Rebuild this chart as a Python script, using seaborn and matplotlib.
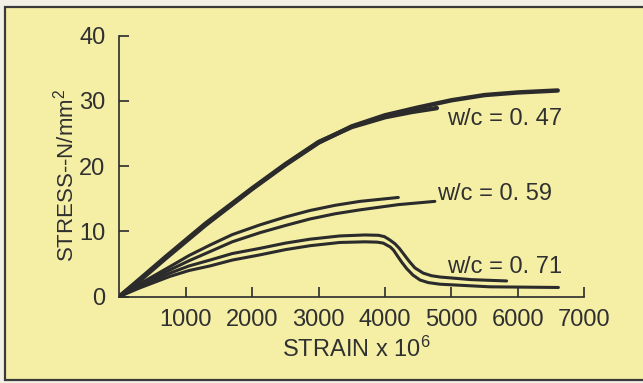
import matplotlib
matplotlib.use("Agg")
import matplotlib.pyplot as plt
from matplotlib.patches import Rectangle
import seaborn as sns
import pandas as pd

# ---- data (strain x 10^-6, stress N/mm^2) ----
strain_047a = [0, 300, 700, 1300, 2000, 2500, 3000, 3500, 4000, 4500, 5000, 5500, 6000, 6600]
stress_047a = [0, 2.4, 5.9, 11.0, 16.5, 20.2, 23.6, 26.1, 27.8, 29.0, 30.1, 30.9, 31.3, 31.6]

strain_047b = [0, 300, 700, 1300, 2000, 2500, 3000, 3500, 4000, 4400, 4780]
stress_047b = [0, 2.6, 6.1, 11.2, 16.6, 20.3, 23.7, 26.0, 27.5, 28.3, 28.9]

strain_059a = [0, 300, 763, 1050, 1365, 1700, 2118, 2500, 2870, 3250, 3623, 4200]
stress_059a = [0, 1.9, 4.6, 6.3, 7.9, 9.5, 11.0, 12.2, 13.2, 14.0, 14.6, 15.2]

strain_059b = [0, 300, 763, 1050, 1365, 1700, 2118, 2500, 2870, 3250, 3623, 4200, 4750]
stress_059b = [0, 1.7, 4.1, 5.5, 6.9, 8.4, 9.8, 10.9, 11.9, 12.7, 13.3, 14.1, 14.6]

strain_071a = [0, 300, 763, 1050, 1365, 1700, 2118, 2500, 2870, 3320, 3700, 3900, 3990, 4070,
               4150, 4215, 4290, 4365, 4450, 4575, 4700, 4830, 5300, 5830]
stress_071a = [0, 1.5, 3.6, 4.7, 5.6, 6.6, 7.4, 8.2, 8.8, 9.3, 9.45, 9.4, 9.2, 8.7,
               8.1, 7.4, 6.4, 5.4, 4.4, 3.6, 3.2, 3.0, 2.6, 2.4]

strain_071b = [0, 300, 763, 1050, 1365, 1700, 2118, 2500, 2870, 3320, 3700, 3880, 3974, 4080,
               4130, 4176, 4250, 4326, 4420, 4526, 4650, 4827, 5580, 6610]
stress_071b = [0, 1.3, 3.1, 4.0, 4.7, 5.6, 6.4, 7.2, 7.8, 8.3, 8.4, 8.35, 8.2, 7.6,
               7.1, 6.4, 5.3, 4.3, 3.3, 2.55, 2.15, 1.9, 1.5, 1.4]

x_ticks = [1000, 2000, 3000, 4000, 5000, 6000, 7000]
y_ticks = [0, 10, 20, 30, 40]
labels = ["w/c = 0. 47", "w/c = 0. 59", "w/c = 0. 71"]

sns.set_theme(style="ticks")
FONT = ["Liberation Sans", "DejaVu Sans"]
plt.rcParams["font.family"] = FONT
plt.rcParams["mathtext.fontset"] = "custom"
plt.rcParams["mathtext.rm"] = "Liberation Sans"
plt.rcParams["mathtext.it"] = "Liberation Sans"
plt.rcParams["mathtext.bf"] = "Liberation Sans"

INK = "#2b2b2b"
TXT = "#303030"
YELLOW = "#f5efa6"

fig = plt.figure(figsize=(6.43, 3.83), dpi=100)
fig.patch.set_facecolor("#f3f1e6")
frame = Rectangle((5 / 643, 3 / 383), 1.2, (376 - 3) / 383,
                  transform=fig.transFigure, facecolor=YELLOW,
                  edgecolor="#3a3a3a", linewidth=1.6, zorder=-10)
fig.patches.append(frame)

ax = fig.add_axes([119.3 / 643, (383 - 296.6) / 383, 465 / 643, 260.9 / 383])
ax.set_zorder(5)
ax.set_facecolor("none")

def build(pairs):
    rows = []
    for name, xs, ys in pairs:
        for i, (x, y) in enumerate(zip(xs, ys)):
            rows.append({"curve": name, "order": i, "strain": x, "stress": y})
    return pd.DataFrame(rows)

thick = build([("047a", strain_047a, stress_047a), ("047b", strain_047b, stress_047b)])
thin = build([("059a", strain_059a, stress_059a), ("059b", strain_059b, stress_059b),
              ("071a", strain_071a, stress_071a), ("071b", strain_071b, stress_071b)])

sns.lineplot(data=thick, x="strain", y="stress", units="curve", estimator=None,
             sort=False, color=INK, lw=3.2, ax=ax)
sns.lineplot(data=thin, x="strain", y="stress", units="curve", estimator=None,
             sort=False, color=INK, lw=2.2, ax=ax)
for ln in ax.lines:
    ln.set_solid_joinstyle("round")
    ln.set_solid_capstyle("round")

ax.set_xlim(0, 7000)
ax.set_ylim(0, 40)
ax.set_xticks(x_ticks)
ax.set_yticks(y_ticks)
ax.set_xticklabels([str(t) for t in x_ticks])
ax.set_yticklabels([str(t) for t in y_ticks])
for s in ["top", "right"]:
    ax.spines[s].set_visible(False)
for s in ["left", "bottom"]:
    ax.spines[s].set_color(INK)
    ax.spines[s].set_linewidth(1.2)
ax.tick_params(axis="both", direction="in", length=7.5, width=1.2, color=INK,
               labelcolor=TXT, labelsize=17)
ax.tick_params(axis="x", pad=9)
ax.tick_params(axis="y", pad=10)

ax.set_xlabel("STRAIN x $10^{6}$", fontsize=17, color=TXT)
ax.set_ylabel("STRESS--N/mm$^{2}$", fontsize=16, color=TXT)
ax.xaxis.set_label_coords(0.509, -0.152)
ax.yaxis.set_label_coords(-0.088, 0.466)

ax.text(4930, 27.2, labels[0], fontsize=17, color=TXT, ha="left", va="center")
ax.text(4780, 15.8, labels[1], fontsize=17, color=TXT, ha="left", va="center")
ax.text(4930, 4.6, labels[2], fontsize=17, color=TXT, ha="left", va="center")

fig.savefig("out.png", dpi=100, facecolor=fig.get_facecolor())
